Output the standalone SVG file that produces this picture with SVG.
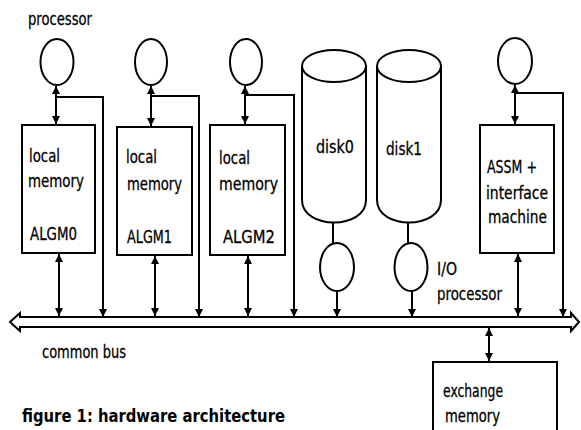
<svg xmlns="http://www.w3.org/2000/svg" width="581" height="430" viewBox="0 0 581 430">
<style>
.s{fill:none;stroke:#000;stroke-width:2}
.n{fill:#fff;stroke:#000;stroke-width:2}
.t{font-family:"DejaVu Sans","Liberation Sans",sans-serif;font-size:17px;fill:#000;stroke:#000;stroke-width:0.3}
.c{font-weight:bold;font-size:18px;stroke-width:0}
.a{fill:none;stroke:#000;stroke-width:2;marker-end:url(#ah)}
.d{fill:none;stroke:#000;stroke-width:2;marker-start:url(#ah);marker-end:url(#ah)}
</style>
<defs>
<marker id="ah" viewBox="0 0 8 8" refX="8" refY="4" markerWidth="4" markerHeight="4" orient="auto-start-reverse">
<path d="M0,0 L8,4 L0,8 Z" fill="#000"/>
</marker>
</defs>
<rect width="581" height="430" fill="#fff"/>

<g id="bus">
<path class="n" d="M20,317 L571,317 L571,313 L579,322 L571,331 L571,327 L20,327 L20,331 L10,322 L20,313 Z"/>
<text class="t" x="42" y="358" textLength="84" lengthAdjust="spacingAndGlyphs">common bus</text>
</g>

<g id="proc0">
<ellipse class="n" cx="57" cy="62" rx="16.5" ry="23"/>
<text class="t" x="28" y="25" textLength="64" lengthAdjust="spacingAndGlyphs">processor</text>
</g>
<g id="algm0">
<rect class="n" x="22" y="125" width="73" height="128"/>
<text class="t" x="29" y="162" textLength="31" lengthAdjust="spacingAndGlyphs">local</text>
<text class="t" x="28" y="187" textLength="56" lengthAdjust="spacingAndGlyphs">memory</text>
<text class="t" x="30" y="240" textLength="47" lengthAdjust="spacingAndGlyphs">ALGM0</text>
</g>

<g id="proc1">
<ellipse class="n" cx="151" cy="62" rx="16" ry="23"/>
</g>
<g id="algm1">
<rect class="n" x="117" y="127" width="75" height="128"/>
<text class="t" x="126" y="163" textLength="31" lengthAdjust="spacingAndGlyphs">local</text>
<text class="t" x="127" y="190" textLength="55" lengthAdjust="spacingAndGlyphs">memory</text>
<text class="t" x="127" y="243" textLength="45" lengthAdjust="spacingAndGlyphs">ALGM1</text>
</g>

<g id="proc2">
<ellipse class="n" cx="246" cy="62" rx="16" ry="23"/>
</g>
<g id="algm2">
<rect class="n" x="210" y="125" width="75" height="130"/>
<text class="t" x="219" y="164" textLength="31" lengthAdjust="spacingAndGlyphs">local</text>
<text class="t" x="219" y="190" textLength="59" lengthAdjust="spacingAndGlyphs">memory</text>
<text class="t" x="223" y="243" textLength="52" lengthAdjust="spacingAndGlyphs">ALGM2</text>
</g>

<g id="disk0">
<path class="n" d="M302,66 L302,200 C302,230 366,230 366,200 L366,66"/>
<ellipse class="n" cx="334" cy="66" rx="32" ry="16"/>
<text class="t" x="316" y="153" textLength="38" lengthAdjust="spacingAndGlyphs">disk0</text>
</g>
<g id="disk1">
<path class="n" d="M377,66 L377,200 C377,230 441,230 441,200 L441,66"/>
<ellipse class="n" cx="409" cy="66" rx="32" ry="16"/>
<text class="t" x="386" y="155" textLength="36" lengthAdjust="spacingAndGlyphs">disk1</text>
</g>

<g id="io0">
<ellipse class="n" cx="337" cy="267" rx="17" ry="24"/>
</g>
<g id="io1">
<ellipse class="n" cx="411" cy="267" rx="16.5" ry="24"/>
<text class="t" x="437" y="275" textLength="20" lengthAdjust="spacingAndGlyphs">I/O</text>
<text class="t" x="437" y="300" textLength="65" lengthAdjust="spacingAndGlyphs">processor</text>
</g>

<g id="proc3">
<ellipse class="n" cx="515" cy="61" rx="17" ry="23"/>
</g>
<g id="assm">
<rect class="n" x="480" y="125" width="74" height="128"/>
<text class="t" x="487" y="173" textLength="50" lengthAdjust="spacingAndGlyphs">ASSM +</text>
<text class="t" x="486" y="199" textLength="62" lengthAdjust="spacingAndGlyphs">interface</text>
<text class="t" x="488" y="223" textLength="59" lengthAdjust="spacingAndGlyphs">machine</text>
</g>

<g id="exchange">
<path class="n" d="M433,434 L433,362 L557,362 L557,434"/>
<text class="t" x="443" y="397" textLength="60" lengthAdjust="spacingAndGlyphs">exchange</text>
<text class="t" x="445" y="422" textLength="55" lengthAdjust="spacingAndGlyphs">memory</text>
</g>

<g id="connectors">
<path class="d" d="M56,86 L56,124"/>
<path class="a" d="M56,97 L103,97 L103,317"/>
<path class="d" d="M59,254 L59,316"/>
<path class="d" d="M151,86 L151,126"/>
<path class="a" d="M151,96 L199,96 L199,317"/>
<path class="d" d="M155,256 L155,316"/>
<path class="d" d="M245,86 L245,124"/>
<path class="a" d="M245,95 L294,95 L294,317"/>
<path class="d" d="M248,256 L248,316"/>
<path class="s" d="M333,222 L333,243"/>
<path class="a" d="M337,291 L337,317"/>
<path class="s" d="M408,222 L408,243"/>
<path class="a" d="M412,291 L412,317"/>
<path class="d" d="M515,85 L515,124"/>
<path class="a" d="M515,93 L563,93 L563,317"/>
<path class="d" d="M518,254 L518,316"/>
<path class="d" d="M489,328 L489,361"/>
</g>

<text class="t c" x="22" y="422" textLength="263" lengthAdjust="spacingAndGlyphs">figure 1: hardware architecture</text>
</svg>
